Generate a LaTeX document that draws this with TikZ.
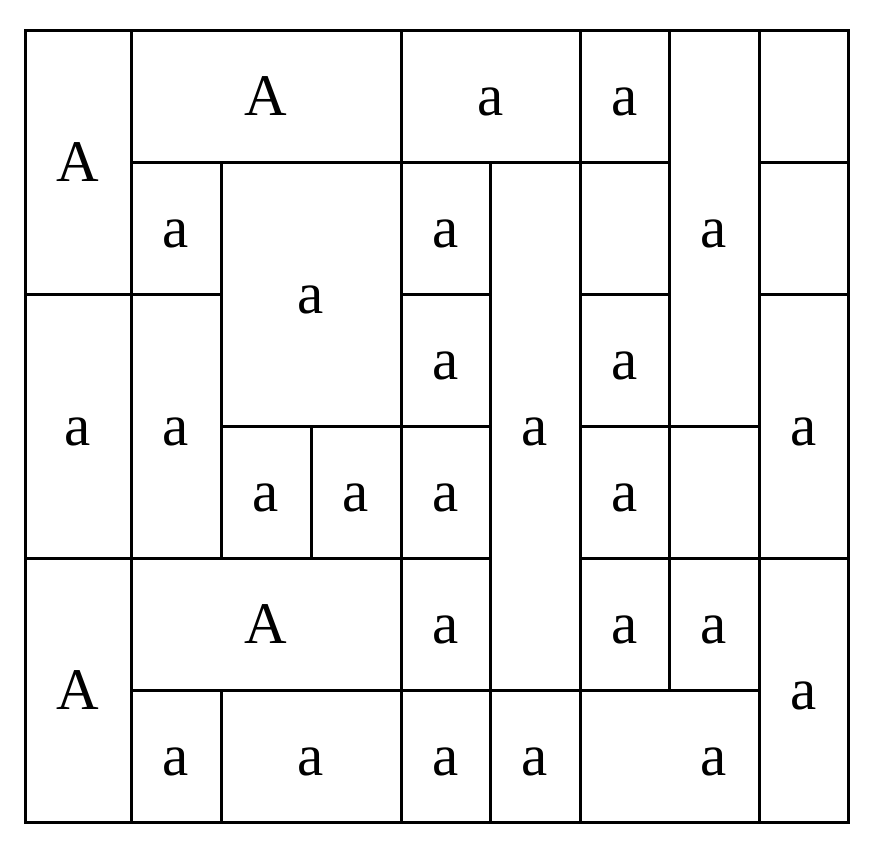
\documentclass[tikz,border=0pt]{standalone}
\usepackage{fontspec}
\setmainfont{Liberation Serif}
\begin{document}
\begin{tikzpicture}[x=0.5pt,y=-0.5pt,
  cell/.style={draw,line width=1.5pt},
  letter/.style={inner sep=0pt,text height=19.5pt,text depth=0pt,font=\fontsize{29.5}{35}\selectfont}
]
  \useasboundingbox (0,0) rectangle (883,852);
  % cells of the tiling
  \foreach \xa/\ya/\xb/\yb in {25/30/131/294, 131/30/401/162, 401/30/580/162, 580/30/669/162,
    669/30/759/426, 759/30/848/162, 759/162/848/294, 759/294/848/558, 759/558/848/822,
    131/162/221/294, 221/162/401/426, 401/162/490/294, 490/162/580/690, 580/162/669/294,
    25/294/131/558, 131/294/221/558, 401/294/490/426, 580/294/669/426,
    221/426/311/558, 311/426/401/558, 401/426/490/558, 580/426/669/558, 669/426/759/558,
    25/558/131/822, 131/558/401/690, 401/558/490/690, 580/558/669/690, 669/558/759/690,
    131/690/221/822, 221/690/401/822, 401/690/490/822, 490/690/580/822, 580/690/759/822}
    \draw[cell] (\xa,\ya) rectangle (\xb,\yb);
  % capital letters
  \node[letter] (A1) at (78,162) {A};
  \node[letter] (A2) at (266,96) {A};
  \node[letter] (A3) at (78,690) {A};
  \node[letter] (A4) at (266,624) {A};
  % small letters
  \node[letter] (a1) at (490.5,96) {a};
  \node[letter] (a2) at (624.5,96) {a};
  \node[letter] (a3) at (714,228) {a};
  \node[letter] (a4) at (803.5,426) {a};
  \node[letter] (a5) at (803.5,690) {a};
  \node[letter] (a6) at (176,228) {a};
  \node[letter] (a7) at (311,294) {a};
  \node[letter] (a8) at (445.5,228) {a};
  \node[letter] (a9) at (535,426) {a};
  \node[letter] (a10) at (78,426) {a};
  \node[letter] (a11) at (176,426) {a};
  \node[letter] (a12) at (445.5,360) {a};
  \node[letter] (a13) at (624.5,360) {a};
  \node[letter] (a14) at (266,492) {a};
  \node[letter] (a15) at (356,492) {a};
  \node[letter] (a16) at (445.5,492) {a};
  \node[letter] (a17) at (624.5,492) {a};
  \node[letter] (a18) at (445.5,624) {a};
  \node[letter] (a19) at (624.5,624) {a};
  \node[letter] (a20) at (714,624) {a};
  \node[letter] (a21) at (176,756) {a};
  \node[letter] (a22) at (311,756) {a};
  \node[letter] (a23) at (445.5,756) {a};
  \node[letter] (a24) at (535,756) {a};
  \node[letter] (a25) at (714,756) {a};
\end{tikzpicture}
\end{document}
